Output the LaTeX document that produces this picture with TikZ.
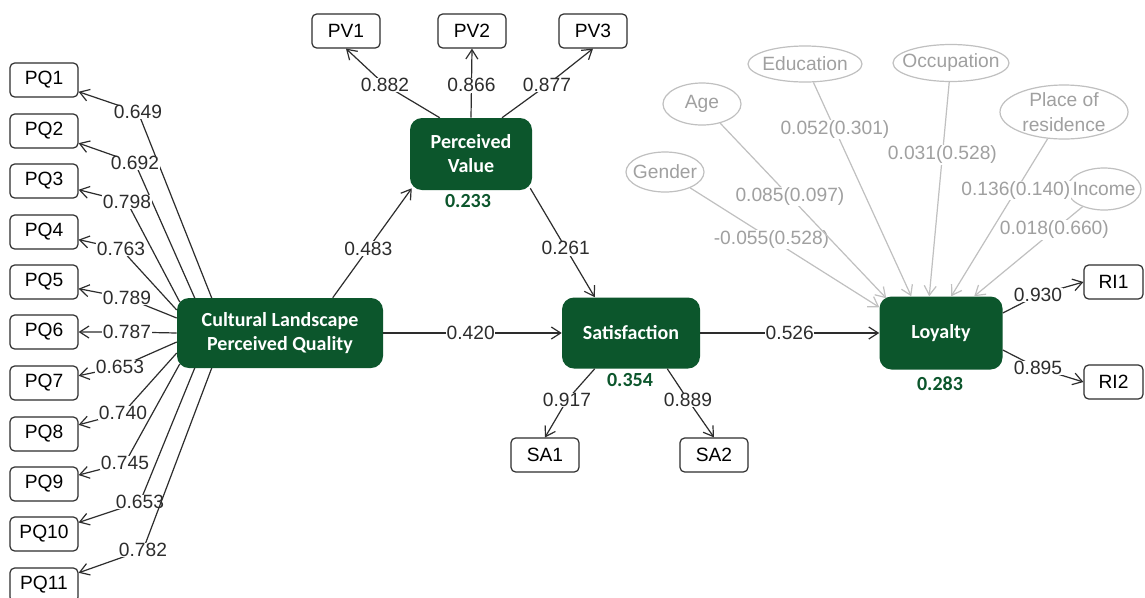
\documentclass[tikz,border=0pt]{standalone}
\usepackage{fontspec}
\setmainfont{Liberation Sans}
\newfontfamily\calib{Carlito}
\usetikzlibrary{shapes.geometric,arrows.meta,calc}
\definecolor{dkgreen}{RGB}{12,86,44}
\definecolor{ctlline}{RGB}{192,192,192}
\definecolor{ctltext}{RGB}{160,160,160}
\definecolor{ink}{RGB}{45,45,45}
\begin{document}
\begin{tikzpicture}[x=0.75pt,y=-0.75pt,
 lat/.style={rectangle,rounded corners=9pt,fill=dkgreen,text=white,font=\calib\bfseries\fontsize{15}{18}\selectfont,align=center,inner sep=0pt},
 ind/.style={rectangle,rounded corners=3.5pt,draw=ink,line width=0.9pt,minimum width=51pt,minimum height=25.5pt,inner sep=0pt,font=\fontsize{14.4}{16}\selectfont,text=black},
 ctl/.style={ellipse,draw=ctlline,line width=0.9pt,inner sep=-12pt,text=ctltext,font=\fontsize{14.4}{18.75}\selectfont,align=center},
 lbl/.style={fill=white,inner sep=0.5pt,font=\fontsize{14.4}{16}\selectfont,text=ink},
 glbl/.style={fill=white,inner sep=0.5pt,font=\fontsize{14.4}{16}\selectfont,text=ctltext},
 r2/.style={font=\calib\bfseries\fontsize{15}{18}\selectfont,text=dkgreen},
 arr/.style={draw=ink,line width=0.9pt,-{Straight Barb[length=7pt,width=9pt,line width=0.9pt]}},
 garr/.style={draw=ctlline,line width=0.9pt,-{Straight Barb[length=7pt,width=9pt,line width=0.9pt]}}
]
\useasboundingbox[fill=white] (0,0) rectangle (1145,597);

% latent variables
\node[lat,minimum width=154.5pt,minimum height=52.5pt] (clpq) at (280,333) {Cultural Landscape\\Perceived Quality};
\node[lat,minimum width=91.5pt,minimum height=54pt] (pv) at (471,154) {Perceived\\Value};
\node[lat,minimum width=103.5pt,minimum height=53.25pt] (sat) at (631,333) {Satisfaction};
\node[lat,minimum width=92.25pt,minimum height=54.75pt] (loy) at (941,333) {Loyalty};

% R^2
\node[r2] (r2pv) at (468,201) {0.233};
\node[r2] (r2sat) at (630,380) {0.354};
\node[r2] (r2loy) at (940,384) {0.283};

% indicators
\foreach \i/\y in {1/80,2/131,3/181,4/232,5/282,6/332,7/383,8/434,9/484,10/534,11/585}
  \node[ind] (pq\i) at (44,\y) {PQ\i};
\node[ind] (pv1) at (346,31) {PV1};
\node[ind] (pv2) at (472,31) {PV2};
\node[ind] (pv3) at (593,31) {PV3};
\node[ind] (sa1) at (545,455) {SA1};
\node[ind] (sa2) at (714,455) {SA2};
\node[ind,minimum width=44.25pt] (ri1) at (1113.5,282) {RI1};
\node[ind,minimum width=44.25pt] (ri2) at (1113.5,382) {RI2};

% controls
\node[ctl,minimum width=85.5pt,minimum height=27pt] (edu) at (805,64) {Education};
\node[ctl,minimum width=87pt,minimum height=27.75pt] (occ) at (951,63) {Occupation};
\node[ctl,minimum width=58.5pt,minimum height=31.5pt] (age) at (702,104) {Age};
\node[ctl,minimum width=58.5pt,minimum height=30pt] (gen) at (665,172) {Gender};
\node[ctl,minimum width=96pt,minimum height=40.5pt] (res) at (1064,112) {Place of\\residence};
\node[ctl,minimum width=55.5pt,minimum height=31.5pt] (inc) at (1104,189) {Income};

% PQ loadings (bent connectors)
\foreach \i/\sx/\sy/\bx/\by/\v in {
  1/35/-35/138/112/0.649, 2/18/-35/135/163/0.692, 3/3/-31/127/202/0.798,
  4/0/-23/121/249/0.763, 5/0/-15/127/298/0.789, 6/0/0/127/332/0.787,
  7/0/9/120/367/0.653, 8/0/20/123/413/0.740, 9/3/31/125/463/0.745,
  10/18/35/140/502/0.653, 11/35/35/143/550/0.782}{
  \coordinate (bq\i) at (\bx,\by);
  \draw[arr] ($(clpq.west)+(\sx,\sy)$) -- (bq\i) node[lbl]{\v} -- (pq\i);
}

% PV loadings
\coordinate (bv1) at (385,85);
\coordinate (bv3) at (547,85);
\draw[arr] ($(pv.north west)+(30,0)$) -- (bv1) node[lbl]{0.882} -- (pv1.south);
\draw[arr] (pv.north) -- (pv2.south) node[lbl,pos=0.47]{0.866};
\draw[arr] ($(pv.north)+(31,0)$) -- (bv3) node[lbl]{0.877} -- (pv3.south);

% SA loadings
\coordinate (bs1) at (567,400);
\coordinate (bs2) at (688,400);
\draw[arr] ($(sat.south west)+(33,0)$) -- (bs1) node[lbl]{0.917} -- (sa1.north);
\draw[arr] ($(sat.south east)+(-33,0)$) -- (bs2) node[lbl]{0.889} -- (sa2.north);

% RI loadings
\coordinate (br1) at (1038,295);
\coordinate (br2) at (1038,368);
\draw[arr] ($(loy.east)+(0,-20)$) -- (br1) node[lbl]{0.930} -- (ri1.west);
\draw[arr] ($(loy.east)+(0,17)$) -- (br2) node[lbl]{0.895} -- (ri2.west);

% structural paths
\draw[arr] ($(clpq.north west)+(156,0)$) -- ($(pv.south west)+(2,-2)$) node[lbl,pos=0.45]{0.483};
\draw[arr] ($(pv.south east)+(-2,-2)$) -- ($(sat.north west)+(33,0)$) node[lbl,pos=0.55]{0.261};
\draw[arr] (clpq) -- (sat) node[lbl,pos=0.49]{0.420};
\draw[arr] (sat) -- (loy) node[lbl,pos=0.5]{0.526};

% control paths
\draw[garr] (gen) -- ($(loy.north west)+(0,11)$) node[glbl,pos=0.43]{-0.055(0.528)};
\draw[garr] (age) -- ($(loy.north west)+(7,2)$) node[glbl,pos=0.42]{0.085(0.097)};
\draw[garr] (edu) -- ($(loy.north west)+(32,0)$) node[glbl,pos=0.22]{0.052(0.301)};
\draw[garr] (occ) -- ($(loy.north west)+(50,0)$) node[glbl,pos=0.34]{0.031(0.528)};
\draw[garr] (res) -- ($(loy.north west)+(72,0)$) node[glbl,pos=0.33]{0.136(0.140)};
\draw[garr] (inc) -- ($(loy.north west)+(95,0)$) node[glbl,pos=0.26]{0.018(0.660)};
\end{tikzpicture}
\end{document}
